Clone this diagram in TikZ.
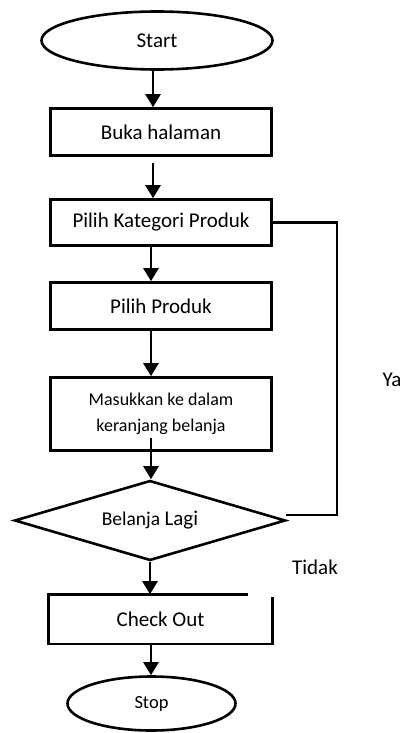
\documentclass[tikz,border=0pt]{standalone}
\usepackage{fontspec}
\setmainfont{Carlito}
\usetikzlibrary{shapes.geometric,arrows.meta,calc}
\begin{document}
\begin{tikzpicture}[x=1pt,y=-1pt,
  lw/.style={line width=2.6pt},
  term/.style={ellipse,draw,lw,inner sep=0pt},
  proc/.style={rectangle,draw,lw,inner sep=0pt,minimum width=221pt,align=center,font=\fontsize{21}{25}\selectfont},
  arr/.style={lw,-{Triangle[width=15pt,length=13pt]}},
  lbl/.style={inner sep=0pt,font=\fontsize{21}{25}\selectfont}]
\useasboundingbox (0,0) rectangle (403,733);
\node[term,minimum width=231pt,minimum height=58pt,font=\fontsize{21}{25}\selectfont] (start) at (157,40.5) {Start};
\node[proc,minimum height=47pt] (buka) at (161,132) {Buka halaman};
\node[proc,minimum height=46pt] (kat) at (161,222.5) {Pilih Kategori Produk};
\node[proc,minimum height=47pt] (prod) at (161,306) {Pilih Produk};
\node[proc,minimum height=73pt,font=\fontsize{18}{26}\selectfont] (mas) at (161,414) {Masukkan ke dalam\\keranjang belanja};
\node[diamond,draw,lw,inner sep=0pt,aspect=3.4,minimum width=271pt,minimum height=80pt,font=\fontsize{21}{24}\selectfont] (dia) at (150,520.5)
  {{\fontsize{19.5}{22}\selectfont Belanja }Lagi};
\node[proc,draw=none,minimum height=47pt] (co) at (160.5,619) {Check Out};
\node[term,minimum width=168pt,minimum height=54pt,font=\fontsize{18.5}{22}\selectfont] (stop) at (151.5,703.5) {Stop};
\node[lbl] (ya) at (392,380) {Ya};
\node[lbl] (tidak) at (315,567) {Tidak};
\coordinate (lc) at (337,515);
\coordinate (lend) at (286,515);
% check out box with gap
\draw[lw] ($(co.north west)+(199.5,0)$) -- (co.north west) -- (co.south west) -- (co.south east) -- ($(co.north east)+(0,3)$);
% loop back
\draw[lw] (kat.east) -| (lc) -- (lend);
% arrows
\draw[arr] ([xshift=-4pt]start.south) -- ([xshift=-4pt]start.south |- buka.north);
\draw[arr] ([xshift=-8pt,yshift=-6pt]buka.south) -- ([xshift=-8pt]kat.north);
\draw[arr] ([xshift=-10pt]kat.south) -- ([xshift=-10pt]prod.north);
\draw[arr] ([xshift=-10pt]prod.south) -- ([xshift=-10pt]mas.north);
\draw[arr] ([xshift=-10pt,yshift=14pt]mas.south) -- ([xshift=-10pt]mas.south |- dia.north);
\draw[arr] (dia.south) -- (dia.south |- co.north);
\draw[arr] ([xshift=-9.5pt]co.south) -- ([xshift=-9.5pt]co.south |- stop.north);
\end{tikzpicture}
\end{document}
